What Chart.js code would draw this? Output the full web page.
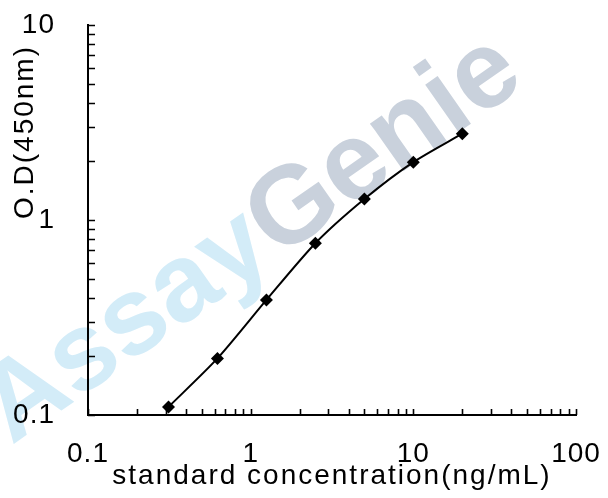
<!DOCTYPE html>
<html>
<head>
<meta charset="utf-8">
<script src="https://cdn.jsdelivr.net/npm/chart.js@4.4.0/dist/chart.umd.min.js"></script>
<style>
  html, body { margin: 0; padding: 0; background: #fff; }
  #chart { display: block; }
</style>
</head>
<body>
<canvas id="chart" width="608" height="498"></canvas>
<script>
// standard curve values
const concentrations = [0.3125, 0.625, 1.25, 2.5, 5, 10, 20];
const odValues = [0.110, 0.195, 0.389, 0.76, 1.28, 1.98, 2.77];

const xTickValues = [0.1, 1, 10, 100];
const xTickLabels = ['0.1', '1', '10', '100'];
const yTickValues = [0.1, 1, 10];
const yTickLabels = ['0.1', '1', '10'];

const xTitle = 'standard concentration(ng/mL)';
const yTitle = 'O.D(450nm)';

const FONT = '"Liberation Sans", Arial, sans-serif';

// minor tick positions for each decade
const minorTicks = (from, to) => {
  const out = [];
  for (let d = from; d < to; d *= 10) {
    for (let k = 1; k < 10; k++) out.push(d * k);
  }
  out.push(to);
  return out;
};

const axisTicksPlugin = {
  id: 'axisTicks',
  beforeDraw(chart) {
    const ctx = chart.ctx;
    ctx.letterSpacing = '1px';
    // watermark
    ctx.save();
    ctx.translate(252, 240);
    ctx.rotate(-35 * Math.PI / 180);
    ctx.font = 'bold 110px ' + FONT;
    ctx.textBaseline = 'middle';
    ctx.letterSpacing = '0px';
    const w1 = ctx.measureText('Assay').width;
    const w2 = ctx.measureText('Genie').width;
    const start = -(w1 + w2) / 2;
    ctx.fillStyle = '#d3ecf8';
    ctx.fillText('Assay', start, 0);
    ctx.fillStyle = '#c9d1dc';
    ctx.fillText('Genie', start + w1, 0);
    ctx.restore();
  },
  afterDraw(chart) {
    const ctx = chart.ctx;
    const { left, bottom } = chart.chartArea;
    const xs = chart.scales.x;
    const ys = chart.scales.y;
    ctx.save();
    ctx.strokeStyle = '#000';
    ctx.lineWidth = 1.6;
    ctx.beginPath();
    minorTicks(0.1, 100).forEach(v => {
      const px = Math.round(xs.getPixelForValue(v)) + 0.5;
      ctx.moveTo(px, bottom);
      ctx.lineTo(px, bottom - 6);
    });
    minorTicks(0.1, 10).forEach(v => {
      const py = Math.round(ys.getPixelForValue(v)) + 0.5;
      ctx.moveTo(left, py);
      ctx.lineTo(left + 7, py);
    });
    ctx.stroke();

    // axis titles
    ctx.fillStyle = '#000';
    ctx.font = '28px ' + FONT;
    ctx.letterSpacing = '2px';
    ctx.textAlign = 'center';
    ctx.textBaseline = 'alphabetic';
    ctx.fillText(xTitle, (chart.chartArea.left + chart.chartArea.right) / 2, 484);
    ctx.translate(33, 132);
    ctx.rotate(-Math.PI / 2);
    ctx.fillText(yTitle, 0, 0);
    ctx.restore();
    ctx.letterSpacing = '0px';
  }
};

new Chart(document.getElementById('chart'), {
  type: 'line',
  data: {
    datasets: [{
      data: concentrations.map((c, i) => ({ x: c, y: odValues[i] })),
      borderColor: '#000',
      borderWidth: 2,
      backgroundColor: '#000',
      pointStyle: 'rectRot',
      pointRadius: 6.5,
      pointBorderWidth: 0,
      tension: 0.25,
      fill: false
    }]
  },
  options: {
    responsive: false,
    animation: false,
    layout: { padding: { top: 25, right: 32, left: 0, bottom: 0 } },
    plugins: {
      legend: { display: false },
      tooltip: { enabled: false }
    },
    scales: {
      x: {
        type: 'logarithmic',
        min: 0.1,
        max: 100,
        afterFit: (scale) => {
          scale.height = 83;
          scale.paddingLeft = 0;
          scale.paddingRight = 0;
        },
        afterBuildTicks: (scale) => { scale.ticks = xTickValues.map(v => ({ value: v })); },
        grid: { display: false, drawTicks: false },
        border: { display: true, color: '#000', width: 2 },
        ticks: {
          color: '#000',
          font: { family: FONT, size: 28 },
          padding: 22,
          maxRotation: 0,
          autoSkip: false,
          callback: (v) => xTickLabels[xTickValues.indexOf(v)]
        }
      },
      y: {
        type: 'logarithmic',
        min: 0.1,
        max: 10,
        afterFit: (scale) => {
          scale.width = 88;
          scale.paddingTop = 0;
          scale.paddingBottom = 0;
        },
        afterBuildTicks: (scale) => { scale.ticks = yTickValues.map(v => ({ value: v })); },
        grid: { display: false, drawTicks: false },
        border: { display: true, color: '#000', width: 2 },
        ticks: {
          color: '#000',
          font: { family: FONT, size: 28 },
          padding: 33,
          autoSkip: false,
          callback: (v) => yTickLabels[yTickValues.indexOf(v)]
        }
      }
    }
  },
  plugins: [axisTicksPlugin]
});
</script>
</body>
</html>
